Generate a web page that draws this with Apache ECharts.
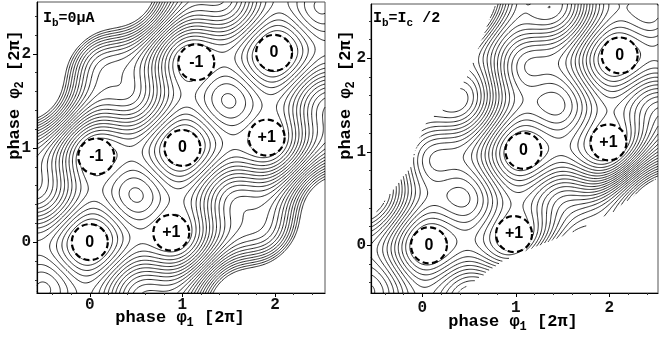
<!DOCTYPE html>
<html><head><meta charset="utf-8">
<script src="https://cdn.jsdelivr.net/npm/echarts@6/dist/echarts.min.js"></script>
<style>html,body{margin:0;padding:0;background:#fff}#c{width:659px;height:337px}</style>
</head><body><div id="c"></div>
<script>
// ---- tick values ----
const majorTicks = [0, 1, 2];
const minorTicks = [-0.4, -0.2, 0.2, 0.4, 0.6, 0.8, 1.2, 1.4, 1.6, 1.8, 2.2, 2.4];
const tickLabels = ['0', '1', '2'];

// ---- axis ranges (phase in units of 2π) ----
const leftXRange = [-0.57, 2.54];
const leftYRange = [-0.54, 2.55];
const rightXRange = [-0.55, 2.52];
const rightYRange = [-0.51, 2.58];

// ---- labelled wells (vortex number) ----
const leftWellLabels = ['0', '+1', '-1', '0', '-1', '0', '+1'];
const leftWellX = [0.0, 0.88, 0.07, 1.0, 1.15, 1.99, 1.91];
const leftWellY = [0.0, 0.10, 0.91, 1.0, 1.91, 2.01, 1.11];
const rightWellLabels = ['0', '+1', '0', '+1', '0'];
const rightWellX = [0.07, 0.98, 1.08, 1.99, 2.11];
const rightWellY = [0.0, 0.12, 1.01, 1.10, 2.03];

// ---- potential landscape parameters per panel [left, right] ----
const coupling = [2.3, 2.3];      // loop inductance term (φ1-φ2)^2
const biasRatio = [0, 0.5];       // Ib/Ic
const topLevel = [9.5, 12.0];     // highest contour drawn
const levelStep = [0.4, 0.4];     // contour spacing

// ---- extent of the computed landscape in the biased panel ----
// for each value of φ1+φ2: largest φ2-φ1 (upper-left edge) and φ1-φ2 (lower-right edge)
const bandSum = [-1.2, -0.2, 0.7, 1.3, 1.9, 2.4, 3.3, 5.2];
const bandUpperLeft = [0.72, 0.85, 0.97, 1.28, 1.22, 1.38, 1.78, 2.3];
const bandLowerRight = [0.75, 0.88, 1.04, 1.28, 1.54, 1.69, 1.81, 2.3];

function interp(xs, ys, v) {
  if (v <= xs[0]) return ys[0];
  for (let i = 1; i < xs.length; i++) {
    if (v <= xs[i]) { const t = (v - xs[i - 1]) / (xs[i] - xs[i - 1]); return ys[i - 1] + t * (ys[i] - ys[i - 1]); }
  }
  return ys[ys.length - 1];
}

function field(p, x, y) {
  const d = x - y, s = x + y;
  const g = Math.exp(-Math.pow(Math.abs(d) / 1.35, 8));
  const tilt = Math.PI * biasRatio[p];
  return -Math.cos(2 * Math.PI * x) - Math.cos(2 * Math.PI * y)
    + coupling[p] * d * d - tilt * s - tilt * d * g;
}
function inBand(p, x, y) {
  if (p === 0) return true;
  const d = x - y, s = x + y;
  return d >= 0 ? d <= interp(bandSum, bandLowerRight, s) : -d <= interp(bandSum, bandUpperLeft, s);
}

function contours(p, xr, yr, n) {
  const nx = n, ny = n;
  const xs = [], ys = [];
  for (let i = 0; i <= nx; i++) xs.push(xr[0] + (xr[1] - xr[0]) * i / nx);
  for (let j = 0; j <= ny; j++) ys.push(yr[0] + (yr[1] - yr[0]) * j / ny);
  const V = [];
  let vmin = Infinity;
  for (let j = 0; j <= ny; j++) {
    const row = [];
    for (let i = 0; i <= nx; i++) {
      const v = inBand(p, xs[i], ys[j]) ? field(p, xs[i], ys[j]) : NaN;
      row.push(v); if (v < vmin) vmin = v;
    }
    V.push(row);
  }
  const W = nx + 1;
  const out = [];
  for (let L = topLevel[p]; L > vmin; L -= levelStep[p]) {
    const segs = [];
    for (let j = 0; j < ny; j++) {
      for (let i = 0; i < nx; i++) {
        const a = V[j][i], b = V[j][i + 1], c = V[j + 1][i + 1], d = V[j + 1][i];
        if (isNaN(a) || isNaN(b) || isNaN(c) || isNaN(d)) continue;
        const A = a > L, B = b > L, C = c > L, D = d > L;
        if (A === B && B === C && C === D) continue;
        const ep = (e) => {
          let t;
          if (e === 0) { t = (L - a) / (b - a); return [(j * W + i) * 2, [xs[i] + t * (xs[i + 1] - xs[i]), ys[j]]]; }
          if (e === 1) { t = (L - b) / (c - b); return [(j * W + i + 1) * 2 + 1, [xs[i + 1], ys[j] + t * (ys[j + 1] - ys[j])]]; }
          if (e === 2) { t = (L - d) / (c - d); return [((j + 1) * W + i) * 2, [xs[i] + t * (xs[i + 1] - xs[i]), ys[j + 1]]]; }
          t = (L - a) / (d - a); return [(j * W + i) * 2 + 1, [xs[i], ys[j] + t * (ys[j + 1] - ys[j])]];
        };
        const E = [];
        if (A !== B) E.push(0);
        if (B !== C) E.push(1);
        if (C !== D) E.push(2);
        if (D !== A) E.push(3);
        const add = (e1, e2) => { const p1 = ep(e1), p2 = ep(e2); segs.push([p1[0], p1[1], p2[0], p2[1]]); };
        if (E.length === 2) add(E[0], E[1]);
        else if (E.length === 4) {
          const ctr = (a + b + c + d) / 4 > L;
          if (ctr === A) { add(0, 1); add(2, 3); } else { add(3, 0); add(1, 2); }
        }
      }
    }
    const adj = new Map();
    segs.forEach((s, k) => {
      [s[0], s[2]].forEach(key => { if (!adj.has(key)) adj.set(key, []); adj.get(key).push(k); });
    });
    const used = new Uint8Array(segs.length);
    for (let k = 0; k < segs.length; k++) {
      if (used[k]) continue;
      used[k] = 1;
      const s = segs[k];
      const line = [s[1], s[3]];
      let key = s[2];
      while (true) {
        const list = adj.get(key); let nk = -1;
        for (const m of list) if (!used[m]) { nk = m; break; }
        if (nk < 0) break;
        used[nk] = 1; const t = segs[nk];
        if (t[0] === key) { line.push(t[3]); key = t[2]; } else { line.push(t[1]); key = t[0]; }
      }
      key = s[0];
      while (true) {
        const list = adj.get(key); let nk = -1;
        for (const m of list) if (!used[m]) { nk = m; break; }
        if (nk < 0) break;
        used[nk] = 1; const t = segs[nk];
        if (t[0] === key) { line.unshift(t[3]); key = t[2]; } else { line.unshift(t[1]); key = t[0]; }
      }
      out.push({ coords: line });
    }
  }
  return out;
}

const MONO = '"Liberation Mono", "DejaVu Sans Mono", monospace';
const SANS = '"Liberation Sans", Arial, sans-serif';

function axisPair(idx, range, pos, margin) {
  const base = {
    gridIndex: idx, type: 'value', min: range[0], max: range[1], position: pos,
    splitLine: { show: false }
  };
  return [
    Object.assign({}, base, {
      axisLine: { show: true, onZero: false, lineStyle: { color: '#000', width: 1.2 } },
      axisTick: { show: true, customValues: majorTicks, length: 4, lineStyle: { color: '#000' } },
      axisLabel: {
        show: true, customValues: majorTicks, margin: margin,
        formatter: v => tickLabels[majorTicks.indexOf(Math.round(v))] || '',
        fontFamily: MONO, fontWeight: 'bold', fontSize: 16, color: '#111'
      }
    }),
    Object.assign({}, base, {
      axisLine: { show: false, onZero: false },
      axisTick: { show: true, customValues: minorTicks, length: 2, lineStyle: { color: '#333' } },
      axisLabel: { show: false }
    })
  ];
}

const xAxes = [].concat(axisPair(0, leftXRange, 'bottom', 4), axisPair(1, rightXRange, 'bottom', 7));
const yAxes = [].concat(axisPair(0, leftYRange, 'left', 6), axisPair(1, rightYRange, 'left', 5));

function wellSeries(xAxisIndex, yAxisIndex, xs, ys, labels) {
  return {
    type: 'scatter', xAxisIndex, yAxisIndex, z: 10, silent: true,
    symbol: 'circle', symbolSize: 36,
    itemStyle: { color: '#fff', opacity: 1, borderColor: '#000', borderWidth: 2.2, borderType: [6, 3.5] },
    label: {
      show: true, position: 'inside', color: '#000',
      fontFamily: SANS, fontWeight: 'bold', fontSize: 16,
      formatter: pr => labels[pr.dataIndex]
    },
    data: xs.map((x, i) => [x, ys[i]])
  };
}

const leftLines = contours(0, leftXRange, leftYRange, 260);
const rightLines = contours(1, rightXRange, rightYRange, 260);

const rich = {
  a: { fontFamily: MONO, fontWeight: 'bold', fontSize: 17, lineHeight: 22, color: '#111', verticalAlign: 'middle' },
  s: { fontFamily: MONO, fontWeight: 'bold', fontSize: 12, lineHeight: 12, color: '#111', verticalAlign: 'bottom' },
  t: { fontFamily: MONO, fontWeight: 'bold', fontSize: 15, lineHeight: 22, color: '#111', verticalAlign: 'middle' },
  u: { fontFamily: MONO, fontWeight: 'bold', fontSize: 11, lineHeight: 10, color: '#111', verticalAlign: 'bottom' }
};

function txt(x, y, text, rot, align) {
  return {
    type: 'text', x, y, rotation: rot || 0, z: 20,
    style: { text, rich, align: align || 'center', verticalAlign: 'middle' }
  };
}

const option = {
  animation: false,
  backgroundColor: '#fff',
  grid: [
    { left: 37, top: 2, width: 288, height: 291, show: true, borderColor: '#555', borderWidth: 1 },
    { left: 371, top: 4, width: 287, height: 289, show: true, borderColor: '#555', borderWidth: 1 }
  ],
  xAxis: xAxes,
  yAxis: yAxes,
  series: [
    { type: 'lines', coordinateSystem: 'cartesian2d', xAxisIndex: 0, yAxisIndex: 0, polyline: true, silent: true,
      lineStyle: { color: '#000', width: 0.85, opacity: 1 }, data: leftLines },
    { type: 'lines', coordinateSystem: 'cartesian2d', xAxisIndex: 2, yAxisIndex: 2, polyline: true, silent: true,
      lineStyle: { color: '#000', width: 0.85, opacity: 1 }, data: rightLines },
    wellSeries(0, 0, leftWellX, leftWellY, leftWellLabels),
    wellSeries(2, 2, rightWellX, rightWellY, rightWellLabels)
  ],
  graphic: [
    txt(180, 318, '{a|phase φ}{s|1}{a| [2π]}'),
    txt(513, 322, '{a|phase φ}{s|1}{a| [2π]}'),
    txt(15, 95, '{a|phase φ}{s|2}{a| [2π]}', Math.PI / 2),
    txt(346, 95, '{a|phase φ}{s|2}{a| [2π]}', Math.PI / 2),
    txt(43, 18, '{t|I}{u|b}{t|=0μA}', 0, 'left'),
    txt(373, 18, '{t|I}{u|b}{t|=I}{u|c}{t| /2}', 0, 'left')
  ]
};

const chart = echarts.init(document.getElementById('c'), null, { renderer: 'canvas' });
chart.setOption(option);
</script>
</body></html>
